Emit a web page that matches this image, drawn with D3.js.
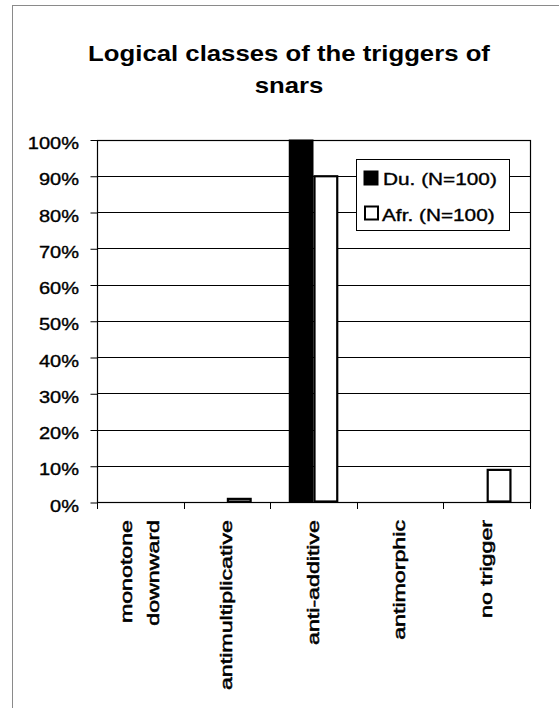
<!DOCTYPE html>
<html>
<head>
<meta charset="utf-8">
<script src="https://cdn.jsdelivr.net/npm/d3@7/dist/d3.min.js"></script>
<style>
  html, body { margin: 0; padding: 0; background: #fff; }
  svg { display: block; font-family: Arial, "Liberation Sans", sans-serif; }
</style>
</head>
<body>
<svg id="chart" width="559" height="708"></svg>
<script>
// Share of snar triggers per logical class, Dutch vs Afrikaans sample
const categories = ["monotone\ndownward", "antimultiplicative", "anti-additive", "antimorphic", "no trigger"];
const seriesNames = ["Du. (N=100)", "Afr. (N=100)"];
const duValues = [0, 0, 100, 0, 0];
const afrValues = [0, 1, 90, 0, 9];
const yTickValues = [0, 10, 20, 30, 40, 50, 60, 70, 80, 90, 100];
const titleLines = ["Logical classes of the triggers of", "snars"];

const rows = categories.map((c, i) => ({ category: c, values: [duValues[i], afrValues[i]] }));

const svg = d3.select("#chart");
const plot = { left: 97, right: 530, top: 139.5, bottom: 502 };

// outer frame of the chart object
svg.append("rect")
  .attr("x", 12.5).attr("y", 5.5)
  .attr("width", 600).attr("height", 760)
  .attr("fill", "none").attr("stroke", "#8a8a8a").attr("stroke-width", 1);

// title
svg.append("g").selectAll("text").data(titleLines).join("text")
  .attr("transform", (d, i) => `translate(289,${61 + i * 32}) scale(1.17,1)`)
  .attr("text-anchor", "middle")
  .attr("font-size", 22).attr("font-weight", "bold").attr("fill", "#000")
  .text(d => d);

const x = d3.scaleBand().domain(categories).range([plot.left, plot.right]).padding(0);
const xs = d3.scaleBand().domain(d3.range(seriesNames.length)).range([0, x.bandwidth()])
  .paddingInner(0).paddingOuter(0.75);
const y = d3.scaleLinear().domain([0, 100]).range([plot.bottom, plot.top]);

// gridlines
svg.append("g").selectAll("line").data(yTickValues).join("line")
  .attr("x1", plot.left).attr("x2", plot.right)
  .attr("y1", d => Math.round(y(d)) + 0.5).attr("y2", d => Math.round(y(d)) + 0.5)
  .attr("stroke", "#000").attr("stroke-width", 1.2);

// plot border
svg.append("rect")
  .attr("x", plot.left + 0.5).attr("y", Math.round(plot.top) + 0.5)
  .attr("width", plot.right - plot.left).attr("height", Math.round(plot.bottom) - Math.round(plot.top))
  .attr("fill", "none").attr("stroke", "#000").attr("stroke-width", 1.2);

// y axis
const yAxis = svg.append("g")
  .attr("transform", `translate(${plot.left + 0.5},0.5)`)
  .call(d3.axisLeft(y).tickValues(yTickValues).tickSize(7).tickSizeOuter(0).tickFormat(d => d + "%"));
yAxis.select(".domain").remove();
yAxis.selectAll("line").attr("stroke", "#000");
yAxis.selectAll("text")
  .attr("x", 0).attr("dy", null).attr("y", 8.5)
  .attr("transform", "translate(-18.5,0) scale(1.25,1)")
  .attr("font-size", 16).attr("font-family", "Arial, 'Liberation Sans', sans-serif")
  .attr("fill", "#000").attr("stroke", "#000").attr("stroke-width", 0.35);

// x tick marks at category boundaries
const boundaries = categories.map(c => x(c)).concat([x(categories[categories.length - 1]) + x.bandwidth()]);
svg.append("g").selectAll("line").data(boundaries).join("line")
  .attr("x1", d => Math.round(d) + 0.5).attr("x2", d => Math.round(d) + 0.5)
  .attr("y1", Math.round(plot.bottom)).attr("y2", Math.round(plot.bottom) + 7)
  .attr("stroke", "#000");

// bars
const groups = svg.append("g").selectAll("g").data(rows).join("g")
  .attr("transform", d => `translate(${x(d.category)},0)`);
groups.selectAll("rect").data(d => d.values.map((v, i) => ({ v, i }))).join("rect")
  .filter(d => d.v > 0)
  .attr("x", d => xs(d.i) + (d.i === 1 ? 1 : 0))
  .attr("width", d => xs.bandwidth() - (d.i === 1 ? 2 : 0))
  .attr("y", d => y(d.v) + (d.i === 1 ? 0.5 : 0))
  .attr("height", d => y(0) - y(d.v) - (d.i === 1 ? 1 : 0))
  .attr("fill", d => d.i === 0 ? "#000" : "#fff")
  .attr("stroke", d => d.i === 0 ? "none" : "#000")
  .attr("stroke-width", 2.2);

// category labels, rotated
const labels = svg.append("g").selectAll("g").data(categories).join("g")
  .attr("transform", d => `translate(${x(d) + x.bandwidth() / 2},520) rotate(-90) scale(1.45,1)`);
labels.each(function (d) {
  const lines = d.split("\n");
  const t = d3.select(this).append("text")
    .attr("text-anchor", "end").attr("font-size", 16).attr("fill", "#000")
    .attr("stroke", "#000").attr("stroke-width", 0.5);
  lines.forEach((ln, k) => {
    t.append("tspan")
      .attr("x", 0)
      .attr("y", 5 + (k - (lines.length - 1) / 2) * 26.6)
      .text(ln);
  });
});

// legend
const legend = svg.append("g");
legend.append("rect")
  .attr("x", 356.5).attr("y", 159.5).attr("width", 153).attr("height", 71)
  .attr("fill", "#fff").attr("stroke", "#000").attr("stroke-width", 1);
const items = legend.selectAll("g").data(seriesNames).join("g")
  .attr("transform", (d, i) => `translate(0,${i * 35.5})`);
items.append("rect")
  .attr("x", (d, i) => i === 0 ? 363.5 : 365)
  .attr("y", (d, i) => i === 0 ? 170.5 : 171)
  .attr("width", (d, i) => i === 0 ? 15 : 13)
  .attr("height", (d, i) => i === 0 ? 15 : 13)
  .attr("fill", (d, i) => i === 0 ? "#000" : "#fff")
  .attr("stroke", (d, i) => i === 0 ? "none" : "#000")
  .attr("stroke-width", 2);
items.append("text")
  .attr("transform", (d, i) => `translate(${i === 0 ? 383 : 382},185) scale(1.3,1)`)
  .attr("font-size", 16).attr("fill", "#000")
  .attr("stroke", "#000").attr("stroke-width", 0.35)
  .text(d => d);
</script>
</body>
</html>
